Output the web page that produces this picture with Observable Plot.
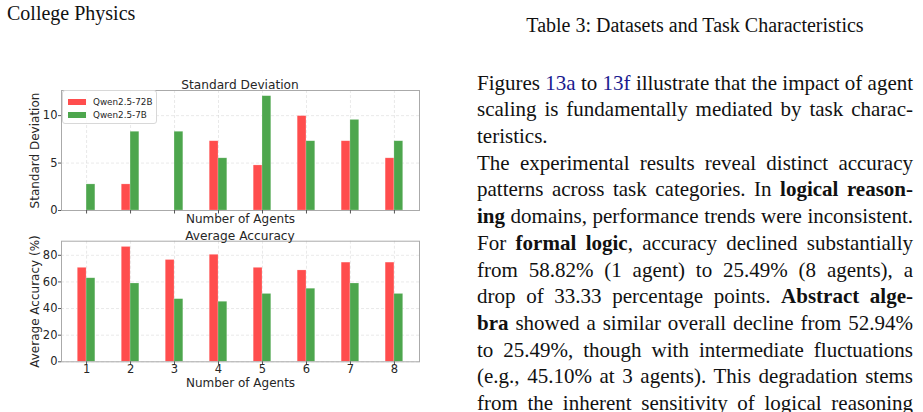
<!DOCTYPE html>
<html>
<head>
<meta charset="utf-8">
<script src="https://cdn.jsdelivr.net/npm/d3@7"></script>
<script src="https://cdn.jsdelivr.net/npm/@observablehq/plot@0.6"></script>
<style>
  html, body { margin: 0; padding: 0; background: #fff; width: 923px; height: 412px; overflow: hidden; }
  .abs { position: absolute; }
  .serif { font-family: "Liberation Serif", "Times New Roman", serif; font-size: 20px; line-height: 25px; color: #111; }
  .para { font-size: 21px; line-height: 26.7px; }
  .para div { text-align: justify; text-align-last: justify; white-space: nowrap; }
  .para div.last { text-align-last: left; }
  .link { color: #1a1a8f; }
  .ctitle { font-family: "DejaVu Sans", sans-serif; font-size: 12.2px; color: #262626; text-align: center; width: 358px; line-height: 14px; }
  .legend { font-family: "DejaVu Sans", sans-serif; font-size: 8.8px; color: #262626; border: 1px solid #d8d8d8; border-radius: 3px; background: rgba(255,255,255,0.85); box-sizing: border-box; }
  .legend .row { position: absolute; left: 5px; display: flex; align-items: center; height: 10px; }
  .legend .sw { width: 18px; height: 6px; margin-right: 7px; }
</style>
</head>
<body>
<div class="abs serif" style="left:7px; top:1px;">College Physics</div>
<div class="abs serif" style="left:477px; top:13px; width:436px; text-align:center;">Table 3: Datasets and Task Characteristics</div>

<div id="para" class="abs serif para" style="left:477px; top:69.6px; width:436px;">
  <div>Figures <span class="link">13a</span> to <span class="link">13f</span> illustrate that the impact of agent</div>
  <div>scaling is fundamentally mediated by task charac-</div>
  <div class="last">teristics.</div>
  <div>The experimental results reveal distinct accuracy</div>
  <div>patterns across task categories. In <b>logical reason-</b></div>
  <div><b>ing</b> domains, performance trends were inconsistent.</div>
  <div>For <b>formal logic</b>, accuracy declined substantially</div>
  <div>from 58.82% (1 agent) to 25.49% (8 agents), a</div>
  <div>drop of 33.33 percentage points. <b>Abstract alge-</b></div>
  <div><b>bra</b> showed a similar overall decline from 52.94%</div>
  <div>to 25.49%, though with intermediate fluctuations</div>
  <div>(e.g., 45.10% at 3 agents). This degradation stems</div>
  <div>from the inherent sensitivity of logical reasoning</div>
</div>

<div id="top" class="abs" style="left:0; top:60px;"></div>
<div id="bottom" class="abs" style="left:0; top:220px;"></div>

<div class="abs ctitle" style="left:61px; top:78px;">Standard Deviation</div>
<div class="abs ctitle" style="left:61px; top:229px;">Average Accuracy</div>

<div class="abs legend" style="left:62px; top:90px; width:95px; height:34px;">
  <div class="row" style="top:6px;"><div class="sw" style="background:#ff4d4d"></div>Qwen2.5-72B</div>
  <div class="row" style="top:19px;"><div class="sw" style="background:#4da64d"></div>Qwen2.5-7B</div>
</div>

<script>
const agents = [1, 2, 3, 4, 5, 6, 7, 8];
const models = ["Qwen2.5-72B", "Qwen2.5-7B"];
const colors = ["#ff4d4d", "#4da64d"];
const std72 = [0, 2.75, 0, 7.3, 4.75, 9.95, 7.3, 5.5];
const std7 = [2.75, 8.3, 8.3, 5.5, 12.05, 7.3, 9.55, 7.3];
const acc72 = [70.59, 86.27, 76.47, 80.39, 70.59, 68.63, 74.51, 74.51];
const acc7 = [62.75, 58.82, 47.06, 45.10, 50.98, 54.90, 58.82, 50.98];
const stdTicks = [0, 5, 10];
const accTicks = [0, 20, 40, 60, 80];

// keep each paragraph line within the column width
document.querySelectorAll("#para div").forEach(div => {
  const probe = document.createElement("span");
  probe.style.whiteSpace = "nowrap";
  probe.innerHTML = div.innerHTML;
  div.innerHTML = "";
  div.appendChild(probe);
  const w = probe.getBoundingClientRect().width;
  const html = probe.innerHTML;
  div.innerHTML = html;
  if (w > 436) {
    const n = div.textContent.length;
    div.style.letterSpacing = ((436 - w) / n - 0.02) + "px";
  }
});

function rows(a, b) {
  const out = [];
  agents.forEach((g, i) => {
    out.push({agent: g, model: models[0], off: -0.2, value: a[i]});
    out.push({agent: g, model: models[1], off: 0, value: b[i]});
  });
  return out;
}

function chart({data, height, marginTop, marginBottom, yMax, yTicks, yLabel, showX, xLabelOffset}) {
  return Plot.plot({
    width: 460,
    height,
    marginLeft: 61,
    marginRight: 41,
    marginTop,
    marginBottom,
    style: {fontFamily: "'DejaVu Sans', sans-serif", fontSize: "11.5px", color: "#262626", background: "transparent", overflow: "visible"},
    x: {domain: [0.43, 8.57]},
    y: {domain: [0, yMax]},
    color: {domain: models, range: colors},
    marks: [
      Plot.gridX(agents, {stroke: "#d0d0d0", strokeOpacity: 0.6, strokeDasharray: "3,2", strokeWidth: 0.8}),
      Plot.gridY(yTicks, {stroke: "#d0d0d0", strokeOpacity: 0.6, strokeDasharray: "3,2", strokeWidth: 0.8}),
      Plot.rectY(data, {
        x1: d => d.agent + d.off,
        x2: d => d.agent + d.off + 0.2,
        y1: 0,
        y2: "value",
        fill: "model",
        stroke: "#ffffff",
        strokeOpacity: 0.35,
        strokeWidth: 0.6
      }),
      Plot.frame({stroke: "#aaaaaa", strokeWidth: 1}),
      Plot.axisX(agents, {
        tickSize: 3.5,
        tickPadding: 0,
        tickFormat: showX ? d => String(d) : () => "",
        stroke: "#555",
        fontSize: 11.5,
        label: null
      }),
      Plot.axisX({
        ticks: [],
        tickSize: 0,
        label: "Number of Agents",
        labelAnchor: "center",
        labelArrow: "none",
        labelOffset: xLabelOffset,
        fontSize: 12
      }),
      Plot.axisY(yTicks, {
        tickSize: 3,
        tickPadding: 1,
        stroke: "#555",
        fontSize: 11.5,
        label: null
      }),
      Plot.axisY({
        ticks: [],
        tickSize: 0,
        label: yLabel,
        labelAnchor: "center",
        labelArrow: "none",
        labelOffset: 31,
        fontSize: 12
      })
    ]
  });
}

document.getElementById("top").append(chart({
  data: rows(std72, std7), height: 170, marginTop: 30, marginBottom: 20,
  yMax: 12.65, yTicks: stdTicks, yLabel: "Standard Deviation", showX: false, xLabelOffset: 12
}));
document.getElementById("bottom").append(chart({
  data: rows(acc72, acc7), height: 180, marginTop: 20.7, marginBottom: 38.7,
  yMax: 90.6, yTicks: accTicks, yLabel: "Average Accuracy (%)", showX: true, xLabelOffset: 25.5
}));
</script>
</body>
</html>
